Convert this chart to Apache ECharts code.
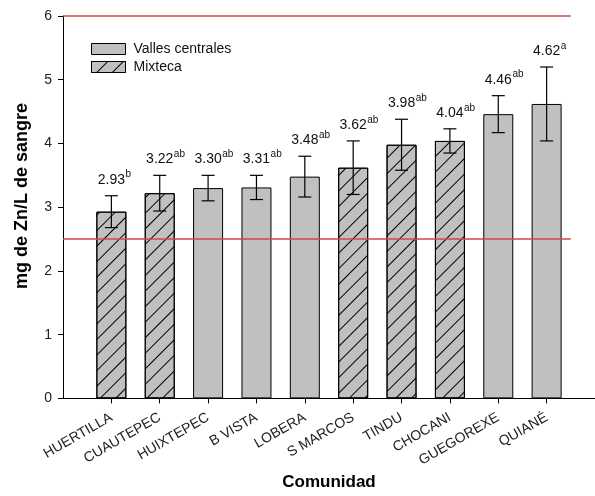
<!DOCTYPE html>
<html>
<head>
<meta charset="utf-8">
<script src="https://cdn.jsdelivr.net/npm/echarts@6/dist/echarts.min.js"></script>
<style>
  html, body { margin: 0; padding: 0; background: #ffffff; }
  #chart { width: 595px; height: 496px; }
</style>
</head>
<body>
<div id="chart"></div>
<script>
// Blood zinc concentration by community (mean ± error), grouped by region
const communities = ['HUERTILLA', 'CUAUTEPEC', 'HUIXTEPEC', 'B VISTA', 'LOBERA', 'S MARCOS', 'TINDU', 'CHOCANI', 'GUEGOREXE', 'QUIANÉ'];
const regions = ['Mixteca', 'Mixteca', 'Valles centrales', 'Valles centrales', 'Valles centrales', 'Mixteca', 'Mixteca', 'Mixteca', 'Valles centrales', 'Valles centrales'];
const zincMeans = [2.93, 3.22, 3.30, 3.31, 3.48, 3.62, 3.98, 4.04, 4.46, 4.62];
const zincErrors = [0.25, 0.28, 0.20, 0.19, 0.32, 0.42, 0.40, 0.19, 0.29, 0.58];
const groupLetters = ['b', 'ab', 'ab', 'ab', 'ab', 'ab', 'ab', 'ab', 'ab', 'a'];
const referenceLimits = [2.5, 6];
const regionNames = ['Valles centrales', 'Mixteca'];
const yTicks = [0, 1, 2, 3, 4, 5, 6];

const FONT = '"Liberation Sans", Arial, sans-serif';
const positions = communities.map((_, i) => i + 1);

function regionData(name) {
  return communities
    .map((_, i) => (regions[i] === name ? [positions[i], zincMeans[i]] : null))
    .filter(d => d !== null);
}

const measureCtx = document.createElement('canvas').getContext('2d');
function textWidth(str, size) {
  measureCtx.font = size + 'px ' + FONT;
  return measureCtx.measureText(str).width;
}

const barStyle = { color: '#c0c0c0', borderColor: '#000000', borderWidth: 1 };

const chart = echarts.init(document.getElementById('chart'), null, { renderer: 'canvas' });

chart.setOption({
  animation: false,
  backgroundColor: '#ffffff',
  textStyle: { fontFamily: FONT },
  grid: { left: 63, right: 0, top: 16, bottom: 96, containLabel: false },
  graphic: [
    {
      // y axis title
      type: 'text',
      x: 22,
      y: 196,
      rotation: Math.PI / 2,
      style: {
        text: 'mg de Zn/L de sangre',
        font: 'bold 18px ' + FONT,
        fill: '#000000',
        textAlign: 'center',
        textVerticalAlign: 'middle'
      }
    }
  ],
  legend: {
    data: regionNames,
    orient: 'vertical',
    left: 86,
    top: 37,
    icon: 'rect',
    itemWidth: 34,
    itemHeight: 11,
    itemGap: 4,
    selectedMode: false,
    itemStyle: { borderWidth: 1, borderColor: '#000000' },
    textStyle: { fontSize: 14, color: '#111111', fontFamily: FONT, padding: [0, 0, 0, 3] }
  },
  xAxis: {
    type: 'value',
    min: 0,
    max: 11,
    interval: 1,
    name: 'Comunidad',
    nameLocation: 'middle',
    nameGap: 74,
    nameTextStyle: { fontSize: 17, fontWeight: 'bold', color: '#000000', fontFamily: FONT },
    axisLine: { show: true, lineStyle: { color: '#000000', width: 1 } },
    axisTick: { show: true, length: 5, customValues: positions, lineStyle: { color: '#000000' } },
    axisLabel: {
      customValues: positions,
      formatter: v => communities[Math.round(v) - 1] || '',
      rotate: 30,
      margin: 18,
      fontSize: 14,
      color: '#222222',
      fontFamily: FONT
    },
    splitLine: { show: false }
  },
  yAxis: {
    type: 'value',
    min: yTicks[0],
    max: yTicks[yTicks.length - 1],
    interval: 1,
    axisLine: { show: true, lineStyle: { color: '#000000', width: 1 } },
    axisTick: { show: true, length: 5, lineStyle: { color: '#000000' } },
    axisLabel: { fontSize: 14, color: '#222222', margin: 11, fontFamily: FONT },
    splitLine: { show: false }
  },
  series: [
    {
      name: 'Valles centrales',
      type: 'bar',
      barWidth: 30,
      barGap: '-100%',
      itemStyle: barStyle,
      data: regionData('Valles centrales'),
      z: 2
    },
    {
      name: 'Mixteca',
      type: 'bar',
      barWidth: 30,
      barGap: '-100%',
      itemStyle: Object.assign({}, barStyle, {
        decal: {
          symbol: 'rect',
          symbolSize: 1,
          color: '#000000',
          dashArrayX: [1, 0],
          dashArrayY: [1, 10],
          rotation: -Math.PI / 4
        }
      }),
      data: regionData('Mixteca'),
      z: 2
    },
    {
      // error bars with caps
      name: 'error',
      type: 'custom',
      z: 4,
      silent: true,
      data: zincMeans.map((m, i) => [positions[i], m, zincErrors[i]]),
      encode: { x: 0, y: 1 },
      renderItem: function (params, api) {
        const x = api.value(0), m = api.value(1), e = api.value(2);
        const top = api.coord([x, m + e]);
        const bot = api.coord([x, m - e]);
        const cap = 6.5;
        const st = { stroke: '#000000', lineWidth: 1.2 };
        return {
          type: 'group',
          children: [
            { type: 'line', shape: { x1: top[0], y1: top[1], x2: bot[0], y2: bot[1] }, style: st },
            { type: 'line', shape: { x1: top[0] - cap, y1: top[1], x2: top[0] + cap, y2: top[1] }, style: st },
            { type: 'line', shape: { x1: bot[0] - cap, y1: bot[1], x2: bot[0] + cap, y2: bot[1] }, style: st }
          ]
        };
      },
      markLine: {
        silent: true,
        symbol: ['none', 'none'],
        label: { show: false },
        lineStyle: { color: '#d04848', width: 1.5, type: 'solid', opacity: 1 },
        data: referenceLimits.map(v => [{ coord: [0, v] }, { coord: [10.5, v] }])
      }
    },
    {
      // mean value labels with significance letters
      name: 'labels',
      type: 'custom',
      z: 5,
      silent: true,
      data: zincMeans.map((m, i) => [positions[i], m, zincErrors[i], i]),
      encode: { x: 0, y: 1 },
      renderItem: function (params, api) {
        const x = api.value(0), m = api.value(1), e = api.value(2), i = api.value(3);
        const top = api.coord([x, m + e]);
        const num = m.toFixed(2);
        const w = textWidth(num, 14);
        const cy = top[1] - 16;
        return {
          type: 'group',
          children: [
            {
              type: 'text',
              style: {
                x: top[0], y: cy, text: num,
                font: '14px ' + FONT, fill: '#111111',
                textAlign: 'center', textVerticalAlign: 'middle'
              }
            },
            {
              type: 'text',
              style: {
                x: top[0] + w / 2 + 0.5, y: cy - 5, text: groupLetters[i],
                font: '10px ' + FONT, fill: '#111111',
                textAlign: 'left', textVerticalAlign: 'middle'
              }
            }
          ]
        };
      }
    }
  ]
});
</script>
</body>
</html>
